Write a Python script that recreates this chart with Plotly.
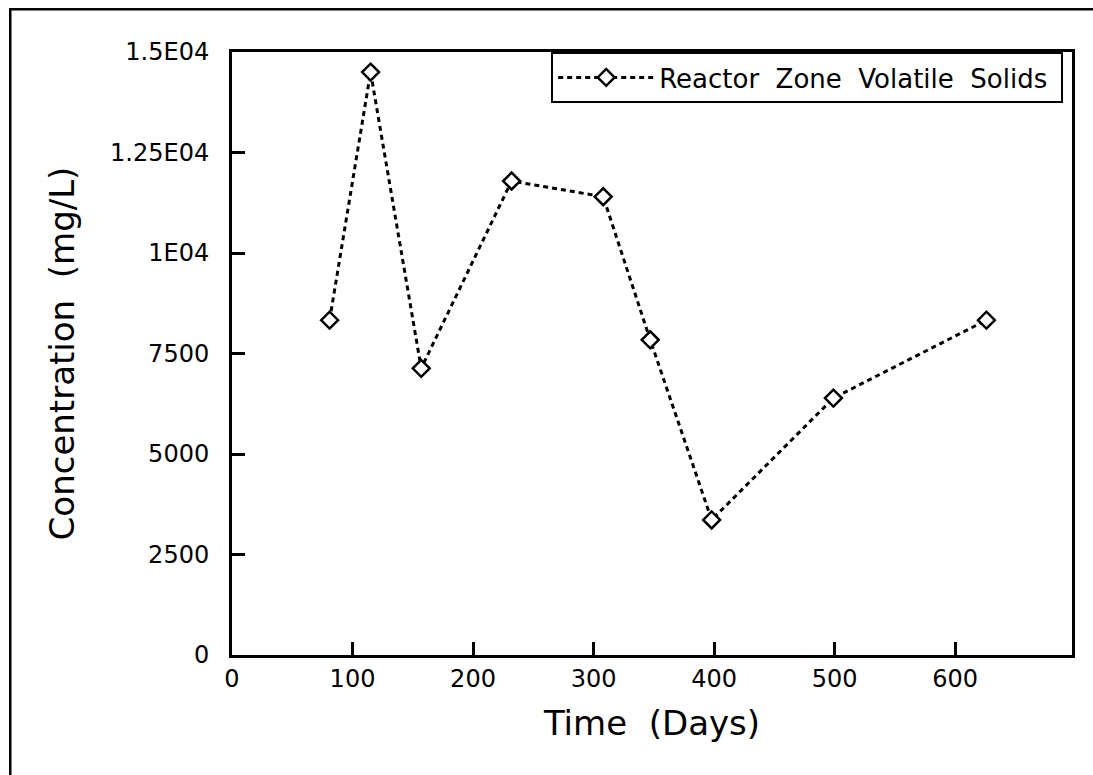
import plotly.graph_objects as go

days = [81, 115, 157, 232, 308, 347, 398, 499, 626]
conc = [8330, 14500, 7130, 11790, 11400, 7840, 3360, 6390, 8330]
y_ticks = [0, 2500, 5000, 7500, 10000, 12500, 15000]
y_tick_text = ["0", "2500", "5000", "7500", "1E04", "1.25E04", "1.5E04"]
x_ticks = [0, 100, 200, 300, 400, 500, 600]
series_name = "Reactor\u00a0 Zone\u00a0 Volatile\u00a0 Solids\u00a0"

FONT = "DejaVu Sans"

fig = go.Figure()
fig.add_trace(go.Scatter(
    x=days, y=conc, mode="lines+markers", name=series_name,
    line=dict(color="black", width=3, dash="5px,4px"),
    marker=dict(symbol="diamond", size=13, color="white",
                line=dict(color="black", width=2.5)),
))

W, H = 1093, 775
L, R, T, B = 232, 1072, 52, 655

fig.update_layout(
    width=W, height=H,
    margin=dict(l=L, r=W - R, t=T, b=H - B, autoexpand=False),
    paper_bgcolor="white", plot_bgcolor="white",
    font=dict(family=FONT, color="black", size=24),
    showlegend=True,
    legend=dict(x=0.9895, xanchor="right", y=1, yanchor="top",
                bordercolor="black", borderwidth=2, bgcolor="white",
                font=dict(size=26, family=FONT), itemwidth=96),
    xaxis=dict(range=[0, 697], tickmode="array", tickvals=x_ticks,
               ticks="inside", ticklen=13, tickwidth=2.5, tickcolor="black",
               showline=True, linecolor="black", linewidth=3, mirror=True,
               showgrid=False, zeroline=False,
               tickfont=dict(size=24, family=FONT),
               title=dict(text="Time\u00a0 (Days)", font=dict(size=34, family=FONT), standoff=20)),
    yaxis=dict(range=[0, 15000], tickmode="array", tickvals=y_ticks, ticktext=y_tick_text,
               ticks="inside", ticklen=13, tickwidth=2.5, tickcolor="black",
               showline=True, linecolor="black", linewidth=3, mirror=True,
               showgrid=False, zeroline=False, ticklabelstandoff=15,
               tickfont=dict(size=24, family=FONT),
               title=dict(text="Concentration\u00a0 (mg/L)", font=dict(size=34, family=FONT), standoff=26)),
)

pw, ph = R - L, B - T
def px_x(p):
    return (p - L) / pw
def px_y(p):
    return (B - p) / ph

# outer page frame (only its top and left edges fall inside the picture)
fig.add_annotation(xref="paper", yref="paper", x=px_x(9), y=px_y(8),
                   xanchor="left", yanchor="top", text="\u00a0", showarrow=False,
                   width=1300, height=1000, bordercolor="black", borderwidth=2.5,
                   borderpad=0, bgcolor="rgba(0,0,0,0)")

fig.write_html("out.html")
